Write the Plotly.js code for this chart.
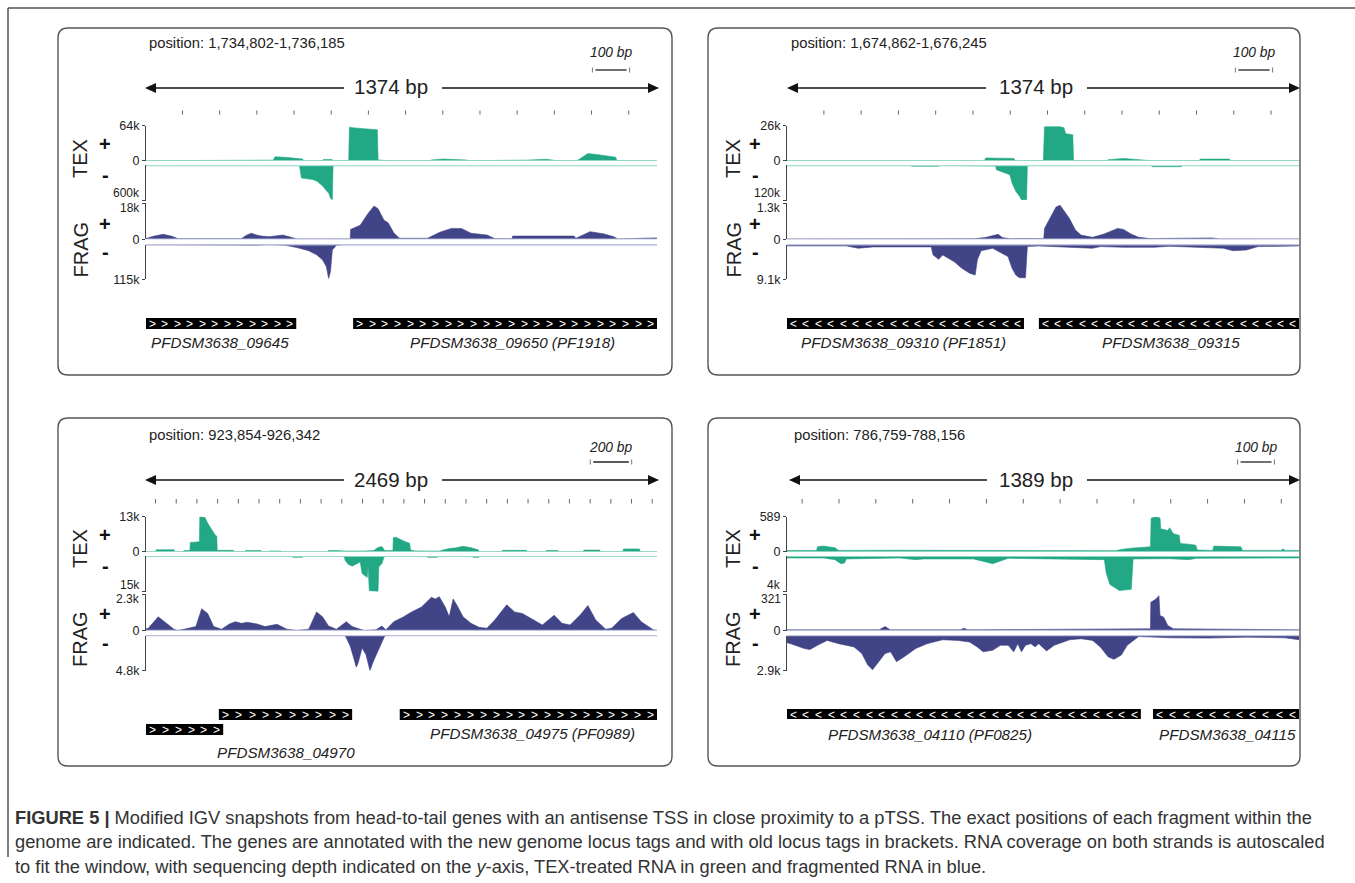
<!DOCTYPE html>
<html><head><meta charset="utf-8">
<script src="https://cdn.plot.ly/plotly-3.0.1.min.js"></script>
<style>html,body{margin:0;padding:0;background:#fff}</style>
</head><body>
<div id="chart" style="width:1355px;height:883px"></div>
<script>
// ===== DATA (bp offset within window, read coverage) =====
const p1Position = 'position: 1,734,802-1,736,185';
const p2Position = 'position: 1,674,862-1,676,245';
const p3Position = 'position: 923,854-926,342';
const p4Position = 'position: 786,759-788,156';
const spans = [1374, 1374, 2469, 1389];
const spanLabels = ['1374 bp', '1374 bp', '2469 bp', '1389 bp'];
const scaleLabels = ['100 bp', '100 bp', '200 bp', '100 bp'];

const p1YMax = [64000, 600000, 18000, 115000];
const p1YLabels = ['64k', '600k', '18k', '115k'];
const p2YMax = [26000, 120000, 1300, 9100];
const p2YLabels = ['26k', '120k', '1.3k', '9.1k'];
const p3YMax = [13000, 15000, 2300, 4800];
const p3YLabels = ['13k', '15k', '2.3k', '4.8k'];
const p4YMax = [589, 4000, 321, 2900];
const p4YLabels = ['589', '4k', '321', '2.9k'];

const p1Ticks = [98, 198, 298, 398, 498, 598, 698, 798, 898, 998, 1098, 1198, 1298];
const p2Ticks = [99, 199, 299, 399, 499, 599, 699, 799, 899, 999, 1099, 1199, 1299];
const p3Ticks = [46, 146, 246, 346, 446, 546, 646, 746, 846, 946, 1046, 1146, 1246, 1346, 1446, 1546, 1646, 1746, 1846, 1946, 2046, 2146, 2246, 2346, 2446];
const p4Ticks = [41, 141, 241, 341, 441, 541, 641, 741, 841, 941, 1041, 1141, 1241, 1341];

// coverage tracks: [bp, depth]
const p1TexPlus = [[0,0],[25,0],[27,600],[70,600],[73,0],[275,0],[278,800],[342,1000],[347,7200],[380,6000],[421,3000],[424,0],[474,0],[477,2000],[500,2000],[503,0],[545,0],[547,61000],[560,60000],[580,58500],[600,58000],[622,56500],[624,1500],[645,1000],[648,0],[765,0],[768,1500],[800,3000],[830,2500],[863,1200],[866,0],[1015,0],[1018,1000],[1077,2500],[1103,1000],[1106,0],[1159,0],[1162,1500],[1188,13000],[1210,11500],[1240,9000],[1263,6500],[1266,0],[1374,0]];
const p1TexMinus = [[0,0],[410,0],[413,15000],[418,215000],[430,225000],[448,240000],[460,270000],[475,350000],[486,436000],[492,480000],[496,560000],[501,585000],[503,0],[1374,0]];
const p1FragPlus = [[0,400],[20,1500],[46,2500],[70,1500],[86,300],[150,200],[256,300],[270,2000],[283,3000],[300,2000],[310,1600],[331,1300],[368,2100],[390,1000],[406,150],[549,200],[550,4900],[576,7000],[597,12800],[613,16500],[624,15200],[640,9500],[651,8200],[667,3000],[682,500],[757,500],[790,3500],[821,5400],[848,5400],[874,3000],[917,2100],[938,300],[984,300],[986,1600],[1050,1700],[1100,1500],[1151,1600],[1156,500],[1175,2000],[1194,3800],[1230,2700],[1258,1300],[1268,200],[1322,600],[1374,700]];
const p1FragMinus = [[0,0],[200,500],[262,3000],[299,2000],[330,0],[374,2000],[406,10000],[437,20000],[459,34000],[475,51000],[485,73000],[491,112000],[496,90000],[501,18000],[512,2000],[530,0],[1374,0]];

const p2TexPlus = [[0,0],[530,0],[533,2000],[609,1700],[612,0],[688,0],[691,25200],[733,25200],[743,24500],[748,20000],[767,19300],[769,0],[859,0],[862,700],[903,1700],[940,800],[975,300],[978,0],[1106,0],[1109,1200],[1187,1200],[1190,0],[1374,0]];
const p2TexMinus = [[0,0],[332,0],[335,3000],[407,3000],[410,0],[539,0],[542,1500],[560,2000],[562,15000],[573,20000],[598,32000],[604,60000],[614,88000],[624,105000],[629,117000],[643,117000],[645,0],[977,0],[980,4500],[1058,4500],[1061,0],[1374,0]];
const p2FragPlus = [[0,10],[100,15],[500,20],[531,60],[567,177],[578,60],[600,20],[640,30],[676,30],[689,20],[691,390],[707,800],[722,1158],[733,1217],[743,1040],[758,745],[774,330],[789,150],[820,70],[851,190],[887,390],[903,355],[923,190],[944,70],[975,25],[1089,60],[1140,50],[1160,15],[1374,10]];
const p2FragMinus = [[0,350],[98,350],[129,525],[160,350],[191,960],[232,600],[387,600],[392,2700],[407,3850],[418,2700],[428,3300],[449,4500],[469,6200],[490,7500],[505,8000],[511,4000],[521,1600],[552,960],[593,3150],[604,6200],[614,8000],[624,8700],[640,8700],[645,500],[676,350],[820,960],[841,525],[903,700],[985,700],[1027,440],[1171,960],[1197,1600],[1233,1400],[1264,525],[1374,350]];

const p3TexPlus = [[0,0],[46,0],[49,700],[135,700],[138,0],[180,0],[183,400],[212,400],[214,3400],[250,3700],[258,3700],[260,13000],[285,12700],[298,10600],[317,8200],[336,6000],[342,5800],[344,500],[422,500],[425,0],[477,0],[480,400],[556,400],[559,0],[592,0],[595,250],[652,250],[655,0],[879,0],[882,400],[920,400],[958,250],[1054,250],[1100,400],[1121,1600],[1140,1900],[1153,400],[1193,400],[1195,5200],[1207,5400],[1245,4000],[1274,3100],[1278,600],[1300,300],[1379,250],[1417,250],[1465,1200],[1494,1400],[1532,2000],[1570,1500],[1605,700],[1610,0],[1720,0],[1723,500],[1838,500],[1841,0],[1931,0],[1934,400],[1991,400],[1994,0],[2113,0],[2116,600],[2192,600],[2195,0],[2304,0],[2307,1000],[2384,1000],[2388,0],[2469,0]];
const p3TexMinus = [[0,0],[705,0],[709,420],[757,420],[760,0],[958,0],[962,1700],[977,3400],[996,4200],[1016,3400],[1035,2400],[1044,7300],[1069,9000],[1073,3800],[1079,14700],[1121,15000],[1125,4500],[1140,3100],[1150,300],[1155,0],[1356,0],[1360,420],[1408,420],[1411,0],[1577,0],[1580,420],[1609,420],[1612,0],[2469,0]];
const p3FragPlus = [[0,100],[11,144],[59,861],[88,554],[135,82],[155,0],[193,123],[241,246],[269,1374],[298,1066],[327,246],[365,82],[403,410],[432,554],[461,451],[489,513],[537,410],[575,246],[633,390],[681,82],[729,0],[786,82],[824,1169],[853,861],[882,287],[920,82],[968,554],[996,246],[1054,0],[1111,41],[1140,287],[1159,41],[1197,554],[1245,861],[1283,1169],[1331,1476],[1379,2091],[1398,1989],[1417,2132],[1446,1476],[1465,861],[1484,1989],[1503,1579],[1532,861],[1570,451],[1609,205],[1647,144],[1685,656],[1743,1620],[1781,1169],[1819,1066],[1877,656],[1915,349],[1972,964],[2010,451],[2049,349],[2097,964],[2135,1579],[2173,656],[2221,82],[2250,144],[2298,759],[2355,1128],[2393,554],[2451,41],[2469,0]];
const p3FragMinus = [[0,0],[461,0],[470,80],[843,80],[960,0],[968,323],[987,1477],[1006,3323],[1016,4338],[1025,3785],[1044,1708],[1063,2630],[1082,4800],[1102,3323],[1121,2169],[1140,1015],[1153,92],[1160,0],[2469,0]];

const p4TexPlus = [[0,20],[80,22],[83,83],[99,94],[130,66],[140,22],[300,25],[500,20],[641,22],[892,17],[907,39],[934,60],[986,83],[988,567],[1001,583],[1012,567],[1014,385],[1033,358],[1038,402],[1048,303],[1064,275],[1067,138],[1090,127],[1109,110],[1113,28],[1142,22],[1155,22],[1158,94],[1231,83],[1236,22],[1340,22],[1346,44],[1352,22],[1389,22]];
const p4TexMinus = [[0,190],[99,190],[130,380],[146,840],[156,760],[161,300],[307,190],[349,380],[370,300],[506,300],[558,840],[579,570],[600,230],[861,380],[866,1900],[876,3200],[902,3900],[934,3750],[939,300],[1038,270],[1090,380],[1111,230],[1389,190]];
const p4FragPlus = [[0,6],[250,6],[266,35],[280,6],[470,6],[480,20],[490,6],[960,15],[986,15],[987,248],[1001,277],[1009,306],[1012,131],[1022,117],[1033,44],[1048,15],[1389,6]];
const p4FragMinus = [[0,600],[10,678],[47,1084],[62,1165],[88,732],[109,407],[140,678],[182,949],[203,1491],[219,2439],[232,2846],[245,2304],[266,1491],[281,1355],[297,2168],[318,1762],[349,1084],[380,678],[401,542],[422,352],[464,407],[495,542],[516,949],[532,1355],[558,1220],[579,813],[600,813],[615,1355],[626,678],[636,1355],[647,813],[662,678],[673,949],[683,678],[704,1274],[725,813],[767,352],[798,271],[829,407],[850,949],[871,1762],[887,1978],[907,1626],[923,813],[954,81],[1038,190],[1142,217],[1247,136],[1351,190],[1389,352]];

// genes: start bp, end bp, strand
const p1GeneStart = [0, 557];   const p1GeneEnd = [404, 1374];  const p1GeneStrand = ['+', '+'];
const p2GeneStart = [0, 676];   const p2GeneEnd = [636, 1374];  const p2GeneStrand = ['-', '-'];
const p3GeneStart = [0, 352, 1226]; const p3GeneEnd = [373, 996, 2469]; const p3GeneStrand = ['+', '+', '+'];
const p4GeneStart = [0, 993];   const p4GeneEnd = [960, 1389];  const p4GeneStrand = ['-', '-'];
const p1GeneNames = ['PFDSM3638_09645', 'PFDSM3638_09650 (PF1918)'];
const p2GeneNames = ['PFDSM3638_09310 (PF1851)', 'PFDSM3638_09315'];
const p3GeneNames = ['PFDSM3638_04970', 'PFDSM3638_04975 (PF0989)'];
const p4GeneNames = ['PFDSM3638_04110 (PF0825)', 'PFDSM3638_04115'];

const captionLines = [
  '<b>FIGURE 5 |</b> Modified IGV snapshots from head-to-tail genes with an antisense TSS in close proximity to a pTSS. The exact positions of each fragment within the',
  'genome are indicated. The genes are annotated with the new genome locus tags and with old locus tags in brackets. RNA coverage on both strands is autoscaled',
  'to fit the window, with sequencing depth indicated on the <i>y</i>-axis, TEX-treated RNA in green and fragmented RNA in blue.'
];

// ===== LAYOUT / STYLE =====
const W = 1355, H = 883;
const fx = x => x / W, fy = y => 1 - y / H;
const FONT = 'Liberation Sans, Arial, Helvetica, sans-serif';
const COL = {tex: '#22a884', frag: '#414487', texBase: '#8ed7c3', fragBase: '#b4b7d9'};
const rowTop = {tracks: [[125.7,160.7],[165.4,200.6],[203,239.3],[244.6,279.3]], ruler: [110.5,114.5], texLab: 159, fragLab: 249.5, signs: [144,174.7,223.5,251.7], midLab: [193.5, 207.5]};
const rowBot = {tracks: [[516.7,551.7],[556.3,591.5],[594,630.5],[635.5,670.5]], ruler: [499,503.5], texLab: 549, fragLab: 639, signs: [535,565.7,614,642.7], midLab: [585, 598.5]};

const panels = [
  {pos: p1Position, span: spans[0], spanLabel: spanLabels[0], scaleLabel: scaleLabels[0], scaleBp: 100,
   tracks: [p1TexPlus, p1TexMinus, p1FragPlus, p1FragMinus], ymax: p1YMax, ylab: p1YLabels, ticks: p1Ticks,
   gs: p1GeneStart, ge: p1GeneEnd, gst: p1GeneStrand, gnames: p1GeneNames,
   row: rowTop, box: [58,28,672,375], dom: [146,657], arrow: [145,659], gap: [344,442], spanTextX: 391,
   posX: 147, posY: 43, scaleTextX: 611, scaleTextY: 53, scaleY: 70, arrowY: 88, labX: 80, signX: 105,
   geneRows: [[318,329]], geneRowOf: [0,0], labelPos: [[220,342.5],[512,342.5]]},
  {pos: p2Position, span: spans[1], spanLabel: spanLabels[1], scaleLabel: scaleLabels[1], scaleBp: 100,
   tracks: [p2TexPlus, p2TexMinus, p2FragPlus, p2FragMinus], ymax: p2YMax, ylab: p2YLabels, ticks: p2Ticks,
   gs: p2GeneStart, ge: p2GeneEnd, gst: p2GeneStrand, gnames: p2GeneNames,
   row: rowTop, box: [708,28,1300,375], dom: [787,1299], arrow: [787,1300], gap: [986,1087], spanTextX: 1036,
   posX: 789, posY: 43, scaleTextX: 1254, scaleTextY: 53, scaleY: 70, arrowY: 88, labX: 733, signX: 755,
   geneRows: [[318,329]], geneRowOf: [0,0], labelPos: [[903,343],[1171,343]]},
  {pos: p3Position, span: spans[2], spanLabel: spanLabels[2], scaleLabel: scaleLabels[2], scaleBp: 200,
   tracks: [p3TexPlus, p3TexMinus, p3FragPlus, p3FragMinus], ymax: p3YMax, ylab: p3YLabels, ticks: p3Ticks,
   gs: p3GeneStart, ge: p3GeneEnd, gst: p3GeneStrand, gnames: p3GeneNames,
   row: rowBot, box: [58,418,672,766], dom: [146,657], arrow: [145,659], gap: [344,442], spanTextX: 391,
   posX: 147, posY: 435, scaleTextX: 611, scaleTextY: 448, scaleY: 462, arrowY: 480, labX: 80, signX: 105,
   geneRows: [[709,720],[724,735]], geneRowOf: [1,0,0], labelPos: [[286,752],[532,733]]},
  {pos: p4Position, span: spans[3], spanLabel: spanLabels[3], scaleLabel: scaleLabels[3], scaleBp: 100,
   tracks: [p4TexPlus, p4TexMinus, p4FragPlus, p4FragMinus], ymax: p4YMax, ylab: p4YLabels, ticks: p4Ticks,
   gs: p4GeneStart, ge: p4GeneEnd, gst: p4GeneStrand, gnames: p4GeneNames,
   row: rowBot, box: [708,418,1300,766], dom: [787,1299], arrow: [789,1300], gap: [987,1087], spanTextX: 1036,
   posX: 792, posY: 435, scaleTextX: 1256, scaleTextY: 448, scaleY: 462, arrowY: 480, labX: 733, signX: 755,
   geneRows: [[709,719]], geneRowOf: [0,0], labelPos: [[930,734],[1227,734]]}
];

const data = [], shapes = [], annotations = [];
const layout = {width: W, height: H, margin: {l:0, r:0, t:0, b:0}, paper_bgcolor: '#fff', plot_bgcolor: 'rgba(0,0,0,0)', showlegend: false, font: {family: FONT, color: '#222'}};
const id = n => n === 1 ? '' : String(n);
const pline = (x0,y0,x1,y1,color,width) => ({type:'line', xref:'paper', yref:'paper', x0:fx(x0), y0:fy(y0), x1:fx(x1), y1:fy(y1), line:{color:color, width:width}});
const ppath = (pts, color) => ({type:'path', xref:'paper', yref:'paper', path: 'M' + pts.map(p => fx(p[0]) + ',' + fy(p[1])).join(' L') + ' Z', fillcolor: color, line:{width:0}});
const txt = (text, x, y, size, opts) => Object.assign({text: text, xref:'paper', yref:'paper', x: fx(x), y: fy(y), showarrow:false, xanchor:'center', yanchor:'middle', font:{family:FONT, size:size, color:'#222'}}, opts || {});

function rrect(x0, y0, x1, y1, r) {
  const P = (x, y) => fx(x) + ',' + fy(y);
  return 'M' + P(x0+r,y0) + ' L' + P(x1-r,y0) + ' Q' + P(x1,y0) + ' ' + P(x1,y0+r) +
    ' L' + P(x1,y1-r) + ' Q' + P(x1,y1) + ' ' + P(x1-r,y1) + ' L' + P(x0+r,y1) +
    ' Q' + P(x0,y1) + ' ' + P(x0,y1-r) + ' L' + P(x0,y0+r) + ' Q' + P(x0,y0) + ' ' + P(x0+r,y0) + ' Z';
}

// outer frame
shapes.push(pline(8, 8, 1355, 8, '#555', 1.5));
shapes.push(pline(8, 8, 8, 857, '#555', 1.5));

const TICKFONT = {family: FONT, size: 12.5, color: '#222'};
const MIDFONT = {family: FONT, size: 12, color: '#222'};

panels.forEach((P, i) => {
  const R = P.row;
  shapes.push({type:'path', xref:'paper', yref:'paper', path: rrect(P.box[0], P.box[1], P.box[2], P.box[3], 10), line:{color:'#555', width:1.4}, fillcolor:'rgba(0,0,0,0)'});
  annotations.push(txt(P.pos, P.posX, P.posY, 14.8, {xanchor:'left'}));
  // scale bar
  const sw = (P.dom[1] - P.dom[0]) * P.scaleBp / P.span;
  const sx1 = P.scaleTextX + sw / 2, sx0 = P.scaleTextX - sw / 2;
  annotations.push(txt('<i>' + P.scaleLabel + '</i>', P.scaleTextX, P.scaleTextY, 13.8));
  shapes.push(pline(sx0 + 3, P.scaleY, sx1 - 3, P.scaleY, '#222', 1.3));
  shapes.push(pline(sx0, P.scaleY - 2.5, sx0, P.scaleY + 2.5, '#777', 1));
  shapes.push(pline(sx1, P.scaleY - 2.5, sx1, P.scaleY + 2.5, '#777', 1));
  // span arrow
  const ay = P.arrowY;
  shapes.push(pline(P.arrow[0] + 8, ay, P.gap[0], ay, '#111', 1.6));
  shapes.push(pline(P.gap[1], ay, P.arrow[1] - 8, ay, '#111', 1.6));
  shapes.push(ppath([[P.arrow[0], ay], [P.arrow[0] + 11, ay - 5], [P.arrow[0] + 11, ay + 5]], '#111'));
  shapes.push(ppath([[P.arrow[1], ay], [P.arrow[1] - 11, ay - 5], [P.arrow[1] - 11, ay + 5]], '#111'));
  annotations.push(txt(P.spanLabel, P.spanTextX, ay - 1, 20.5));

  const xBase = 'x' + id(i * 4 + 1);
  P.ticks.forEach(t => shapes.push({type:'line', xref: xBase, yref:'paper', x0:t, x1:t, y0: fy(R.ruler[0]), y1: fy(R.ruler[1]), line:{color:'#666', width:1}}));

  P.tracks.forEach((tr, t) => {
    const n = i * 4 + t + 1;
    const isTex = t < 2, isMinus = t % 2 === 1;
    const col = isTex ? COL.tex : COL.frag;
    const top = R.tracks[t][0], bot = R.tracks[t][1];
    let tv, tt;
    if (t === 0) { tv = [0, P.ymax[t]]; tt = ['0', P.ylab[t]]; }
    else if (t === 1) { tv = [P.ymax[t]]; tt = ['']; }
    else if (t === 2) { tv = [0, P.ymax[t]]; tt = ['0', '']; }
    else { tv = [P.ymax[t]]; tt = [P.ylab[t]]; }
    layout['xaxis' + id(n)] = {domain: [fx(P.dom[0]), fx(P.dom[1])], range: [0, P.span], visible: false, fixedrange: true, anchor: 'y' + id(n)};
    layout['yaxis' + id(n)] = {
      domain: [fy(bot), fy(top)], range: isMinus ? [P.ymax[t], 0] : [0, P.ymax[t]], autorange: false,
      anchor: 'x' + id(n), showline: true, linecolor: '#444', linewidth: 1, ticks: 'outside', ticklen: 3, tickcolor: '#444',
      tickmode: 'array', tickvals: tv, ticktext: tt, tickfont: TICKFONT,
      showgrid: false, zeroline: false, fixedrange: true
    };
    data.push({type: 'scatter', mode: 'lines', x: tr.map(d => d[0]), y: tr.map(d => d[1]),
      xaxis: 'x' + id(n), yaxis: 'y' + id(n), fill: 'tozeroy', fillcolor: col,
      line: {color: col, width: 0.6}, hoverinfo: 'skip', showlegend: false});
    shapes.push({type:'line', xref:'x' + id(n), yref:'y' + id(n), x0:0, x1:P.span, y0:0, y1:0, line:{color: isTex ? COL.texBase : COL.fragBase, width: 1.6}});
  });
  annotations.push(txt(P.ylab[1], P.dom[0] - 4, R.midLab[0], 12, {xanchor:'right', font: MIDFONT}));
  annotations.push(txt(P.ylab[2], P.dom[0] - 4, R.midLab[1], 12, {xanchor:'right', font: MIDFONT}));

  annotations.push(txt('TEX', P.labX, R.texLab, 20, {textangle: -90}));
  annotations.push(txt('FRAG', P.labX, R.fragLab, 20, {textangle: -90}));
  ['+', '-', '+', '-'].forEach((s, k) => annotations.push(txt('<b>' + s + '</b>', P.signX, R.signs[k], 20, {font:{family:FONT, size:20, color:'#111'}})));

  // genes
  const pxPerBp = (P.dom[1] - P.dom[0]) / P.span;
  P.gs.forEach((s, g) => {
    const e = Math.min(P.ge[g], P.span), s0 = Math.max(0, s);
    const rowY = P.geneRows[P.geneRowOf[g]];
    shapes.push({type:'rect', xref: xBase, yref:'paper', x0: s0, x1: e, y0: fy(rowY[1]), y1: fy(rowY[0]), fillcolor:'#000', line:{width:0}});
    const lenPx = (e - s0) * pxPerBp;
    const nCh = Math.max(1, Math.floor(lenPx / 12.3));
    for (let k = 0; k < nCh; k++) {
      const xb = s0 + (k + 0.5) * (e - s0) / nCh;
      annotations.push({text: P.gst[g] === '+' ? '>' : '<', xref: xBase, yref:'paper', x: xb, y: fy((rowY[0] + rowY[1]) / 2 + 0.5), showarrow:false, xanchor:'center', yanchor:'middle', font:{family:FONT, size:12, color:'#fff'}});
    }
  });
  P.gnames.forEach((nm, g) => annotations.push(txt('<i>' + nm + '</i>', P.labelPos[g][0], P.labelPos[g][1], 15.2)));
});

// caption
const capY = [817, 841, 866];
captionLines.forEach((l, k) => annotations.push(txt(l, 13, capY[k], 18.3, {xanchor:'left', font:{family:FONT, size:18.3, color:'#333'}})));

layout.shapes = shapes;
layout.annotations = annotations;
Plotly.newPlot('chart', data, layout, {staticPlot: true, displayModeBar: false});
</script>
</body></html>
